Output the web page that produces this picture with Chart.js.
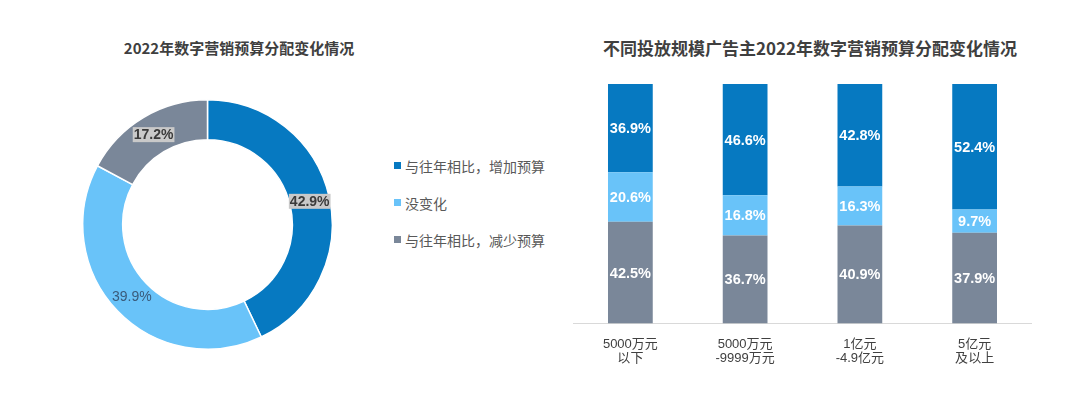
<!DOCTYPE html>
<html>
<head>
<meta charset="utf-8">
<script src="https://cdn.jsdelivr.net/npm/chart.js@4.4.0/dist/chart.umd.min.js"></script>
<style>
    body { margin: 0; width: 1080px; height: 394px; background: #ffffff; position: relative; overflow: hidden;
           font-family: "Liberation Sans", "Noto Sans CJK SC", sans-serif; }
    .title { position: absolute; font-family: "Noto Sans CJK SC", sans-serif; font-weight: bold; color: #3f3f3f;
             white-space: nowrap; transform: translate(-50%, -50%); }
    #pieBox { position: absolute; left: 82px; top: 99px; width: 251px; height: 251px; }
    #barBox { position: absolute; left: 573px; top: 84px; width: 459px; height: 296px; }
    #legend { position: absolute; left: 394px; top: 147px; }
    .legend-item { display: flex; align-items: center; height: 37px; margin-top: 0; font-size: 14px; color: #595959;
                   font-family: "Noto Sans CJK SC", sans-serif; }
    .legend-item .box { width: 7px; height: 7px; margin-right: 4px; }
</style>
</head>
<body>
<div class="title" style="left:239px; top:47px; font-size:15px;">2022年数字营销预算分配变化情况</div>
<div class="title" style="left:810px; top:47px; font-size:17px;">不同投放规模广告主2022年数字营销预算分配变化情况</div>
<div id="pieBox"><canvas id="pieChart"></canvas></div>
<div id="legend"></div>
<div id="barBox"><canvas id="barChart"></canvas></div>
<script>
        // Data
        const pieLabels = ['与往年相比，增加预算', '没变化', '与往年相比，减少预算'];
        const pieValues = [42.9, 39.9, 17.2];

        const barCategories = [['5000万元', '以下'], ['5000万元', '-9999万元'], ['1亿元', '-4.9亿元'], ['5亿元', '及以上']];
        const increaseValues = [36.9, 46.6, 42.8, 52.4];
        const sameValues = [20.6, 16.8, 16.3, 9.7];
        const decreaseValues = [42.5, 36.7, 40.9, 37.9];

        const colors = ['#0679c1', '#69c3f9', '#7a8799'];

        // Labels on doughnut slices (first and last boxed, middle plain)
        const pieLabelPlugin = {
            id: 'pieLabels',
            afterDatasetsDraw(chart) {
                const ctx = chart.ctx;
                const meta = chart.getDatasetMeta(0);
                meta.data.forEach((arc, i) => {
                    const p = arc.getCenterPoint();
                    const text = pieValues[i].toFixed(1) + '%';
                    ctx.save();
                    ctx.textAlign = 'center';
                    ctx.textBaseline = 'middle';
                    if (i === 1) {
                        ctx.font = '14px "Liberation Sans", Arial, sans-serif';
                        ctx.fillStyle = '#3a5b7b';
                        ctx.fillText(text, p.x, p.y);
                    } else {
                        ctx.font = 'bold 14px "Liberation Sans", Arial, sans-serif';
                        const w = ctx.measureText(text).width;
                        ctx.fillStyle = '#c9c9c9';
                        ctx.fillRect(p.x - w / 2 - 1, p.y - 7.5, w + 2, 15);
                        ctx.fillStyle = '#3a3a3a';
                        ctx.fillText(text, p.x, p.y + 0.5);
                    }
                    ctx.restore();
                });
            }
        };

        // White value labels in the middle of each bar segment
        const barLabelPlugin = {
            id: 'barLabels',
            afterDatasetsDraw(chart) {
                const ctx = chart.ctx;
                chart.data.datasets.forEach((ds, di) => {
                    chart.getDatasetMeta(di).data.forEach((bar, i) => {
                        const p = bar.getCenterPoint();
                        ctx.save();
                        ctx.font = 'bold 14.5px "Liberation Sans", Arial, sans-serif';
                        ctx.fillStyle = '#ffffff';
                        ctx.textAlign = 'center';
                        ctx.textBaseline = 'middle';
                        ctx.fillText(ds.data[i].toFixed(1) + '%', p.x, p.y + 1);
                        ctx.restore();
                    });
                });
            }
        };

        function renderLegend() {
            const legend = document.getElementById('legend');
            legend.innerHTML = pieLabels.map((label, i) => `
                <div class="legend-item"><span class="box" style="background:${colors[i]}"></span>${label}</div>
            `).join('');
        }

        function initPie() {
            new Chart(document.getElementById('pieChart'), {
                type: 'doughnut',
                data: {
                    labels: pieLabels,
                    datasets: [{
                        data: pieValues,
                        backgroundColor: colors,
                        borderColor: '#ffffff',
                        borderWidth: 1.5,
                        hoverOffset: 0
                    }]
                },
                options: {
                    responsive: true,
                    maintainAspectRatio: false,
                    animation: false,
                    cutout: '68%',
                    plugins: { legend: { display: false }, tooltip: { enabled: false } }
                },
                plugins: [pieLabelPlugin]
            });
        }

        function initBars() {
            new Chart(document.getElementById('barChart'), {
                type: 'bar',
                data: {
                    labels: barCategories,
                    datasets: [
                        { label: pieLabels[2], data: decreaseValues, backgroundColor: colors[2] },
                        { label: pieLabels[1], data: sameValues, backgroundColor: colors[1] },
                        { label: pieLabels[0], data: increaseValues, backgroundColor: colors[0] }
                    ]
                },
                options: {
                    responsive: true,
                    maintainAspectRatio: false,
                    animation: false,
                    categoryPercentage: 1,
                    barPercentage: 0.39,
                    layout: { padding: 0 },
                    scales: {
                        x: {
                            stacked: true,
                            grid: { display: false, drawTicks: false },
                            border: { color: '#d9d9d9', width: 1 },
                            ticks: {
                                padding: 14,
                                color: '#404040',
                                font: { size: 13, lineHeight: 1.1, family: '"Liberation Sans", "Noto Sans CJK SC", sans-serif' }
                            }
                        },
                        y: { stacked: true, display: false, min: 0, max: 100 }
                    },
                    plugins: { legend: { display: false }, tooltip: { enabled: false } }
                },
                plugins: [barLabelPlugin]
            });
        }

        renderLegend();
        initPie();
        initBars();
</script>
</body>
</html>
